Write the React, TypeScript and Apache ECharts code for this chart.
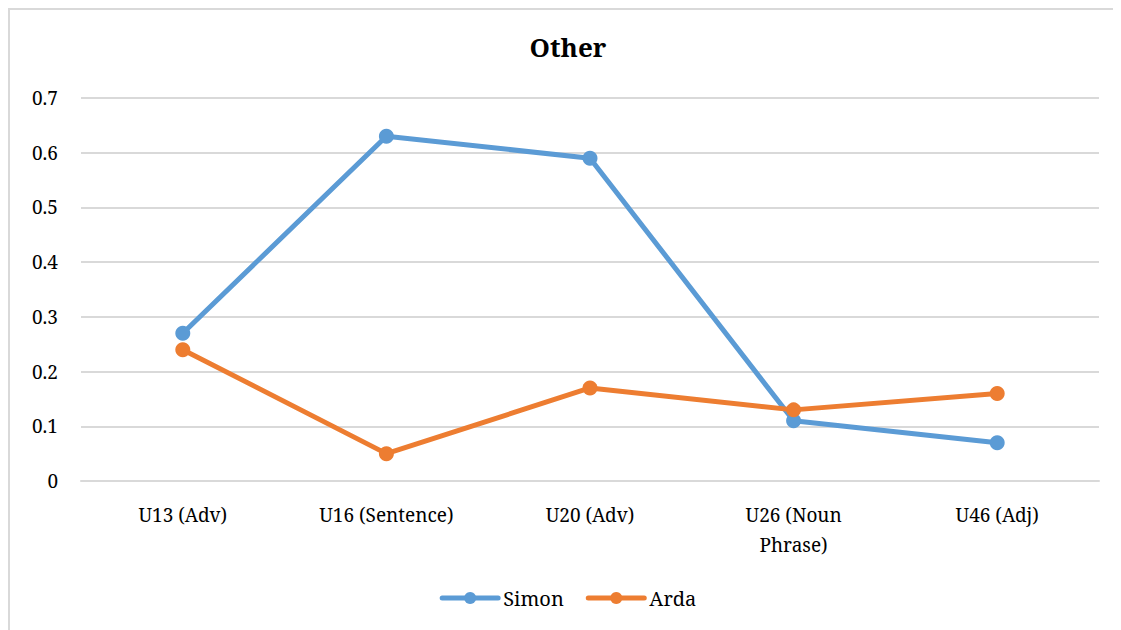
import React, { useEffect, useRef } from "react";
import * as echarts from "echarts";

const categories = ["U13 (Adv)", "U16 (Sentence)", "U20 (Adv)", "U26 (Noun Phrase)", "U46 (Adj)"];
const simon = [0.27, 0.63, 0.59, 0.11, 0.07];
const arda = [0.24, 0.05, 0.17, 0.13, 0.16];
const seriesNames = ["Simon", "Arda"];
const colors = ["#5B9BD5", "#ED7D31"];

const FONT = "Noto Serif";

export default function App() {
  const ref = useRef<HTMLDivElement>(null);
  useEffect(() => {
    if (!ref.current) return;
    document.documentElement.style.overflow = "hidden";
    const chart = echarts.init(ref.current, undefined, { renderer: "svg" });
    const mk = (name: string, data: number[], color: string) => ({
      name,
      type: "line",
      data,
      symbol: "circle",
      symbolSize: 15,
      lineStyle: { width: 5, color, cap: "round", join: "round" },
      itemStyle: { color },
      emphasis: { disabled: true },
    });
    chart.setOption({
      animation: false,
      textStyle: { fontFamily: FONT },
      title: {
        text: "Other",
        left: "center",
        top: 21,
        textStyle: { fontFamily: FONT, fontSize: 26, fontWeight: "bold", color: "#000" },
      },
      legend: {
        bottom: 17,
        left: "center",
        itemWidth: 56,
        itemHeight: 15,
        itemGap: 22,
        data: seriesNames,
        lineStyle: { width: 5, cap: "round" },
        textStyle: { fontFamily: FONT, fontSize: 20, color: "#000", padding: [0, 0, 0, 0] },
      },
      grid: { left: 73, right: 29, top: 90, bottom: 149, containLabel: false },
      xAxis: {
        type: "category",
        data: categories,
        boundaryGap: true,
        axisLine: { lineStyle: { color: "#d9d9d9", width: 2 } },
        axisTick: { show: false },
        axisLabel: {
          fontFamily: FONT,
          fontSize: 19,
          color: "#000",
          margin: 19,
          lineHeight: 30,
          interval: 0,
          formatter: (v: string) => v.replace("Noun ", "Noun\n"),
        },
      },
      yAxis: {
        type: "value",
        min: 0,
        max: 0.7,
        interval: 0.1,
        axisLine: { show: false },
        axisTick: { show: false },
        splitLine: { lineStyle: { color: "#d9d9d9", width: 2 } },
        axisLabel: {
          fontFamily: FONT,
          fontSize: 19,
          color: "#000",
          margin: 23,
          formatter: (v: number) => (v === 0 ? "0" : String(Math.round(v * 10) / 10)),
        },
      },
      series: [mk(seriesNames[0], simon, colors[0]), mk(seriesNames[1], arda, colors[1])],
    });
    return () => chart.dispose();
  }, []);
  return (
    <div
      style={{
        width: 1113,
        height: 622,
        boxSizing: "border-box",
        borderLeft: "2px solid #d9d9d9",
        borderTop: "2px solid #d9d9d9",
        overflow: "hidden",
      }}
    >
      <div ref={ref} style={{ width: 1120, height: 622, marginLeft: -2, marginTop: -2 }} />
    </div>
  );
}
